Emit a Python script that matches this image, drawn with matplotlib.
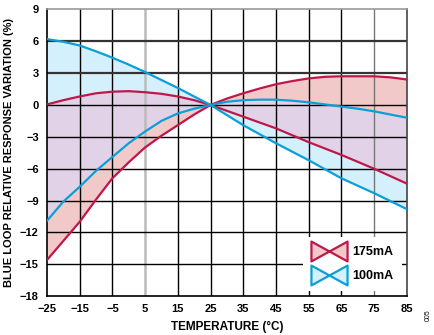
import matplotlib.pyplot as plt
import numpy as np
from matplotlib.path import Path
from matplotlib.lines import Line2D

plt.rcParams['font.family'] = ['Liberation Sans', 'DejaVu Sans']
plt.rcParams['font.weight'] = 'bold'

# temperature (degC) and response variation (%)
temp = [-25, -20, -15, -10, -5, 0, 5, 10, 15, 20, 25, 30,
        35, 40, 45, 50, 55, 60, 65, 70, 75, 80, 85]
red_a = [0.05, 0.45, 0.8, 1.1, 1.25, 1.3, 1.2, 1.05, 0.8, 0.45, 0.0, -0.55,
         -1.1, -1.65, -2.2, -2.85, -3.5, -4.1, -4.7, -5.35, -6.0, -6.7, -7.4]
red_b = [-14.6, -12.8, -11.0, -8.9, -6.9, -5.4, -4.0, -2.9, -1.9, -0.9, 0.0, 0.6,
         1.1, 1.55, 1.95, 2.25, 2.5, 2.65, 2.7, 2.7, 2.7, 2.6, 2.4]
blue_a = [6.2, 5.95, 5.6, 5.05, 4.45, 3.8, 3.1, 2.35, 1.6, 0.8, 0.0, -0.95,
          -1.9, -2.75, -3.6, -4.4, -5.2, -6.05, -6.9, -7.6, -8.3, -9.05, -9.8]
blue_b = [-10.9, -9.1, -7.7, -6.2, -4.9, -3.6, -2.5, -1.5, -0.8, -0.35, 0.0, 0.3,
          0.45, 0.5, 0.5, 0.4, 0.25, 0.05, -0.15, -0.35, -0.6, -0.9, -1.2]

xticks = [-25, -15, -5, 5, 15, 25, 35, 45, 55, 65, 75, 85]
yticks = [-18, -15, -12, -9, -6, -3, 0, 3, 6, 9]

RED = '#C0174A'
BLUE = '#0A9FD6'
PINK = '#F2C9C9'
LBLUE = '#D4F0FC'
PURPLE = '#E2D2E8'

fig = plt.figure(figsize=(4.35, 3.35), dpi=100)
ax = fig.add_axes([0.108, 0.116, 0.827, 0.856])

t = np.array(temp)
ra, rb = np.array(red_a), np.array(red_b)
ba, bb = np.array(blue_a), np.array(blue_b)
r_lo, r_hi = np.minimum(ra, rb), np.maximum(ra, rb)
b_lo, b_hi = np.minimum(ba, bb), np.maximum(ba, bb)
o_lo, o_hi = np.maximum(r_lo, b_lo), np.minimum(r_hi, b_hi)

ax.fill_between(t, r_lo, r_hi, color=PINK, lw=0, zorder=1)
ax.fill_between(t, b_lo, b_hi, color=LBLUE, lw=0, zorder=1)
ax.fill_between(t, o_lo, o_hi, where=o_hi > o_lo, interpolate=True,
                color=PURPLE, lw=0, zorder=1.5)

# grid
for x in xticks[1:-1]:
    if x == 5:
        ax.axvline(x, color='#BBBBBB', lw=1.8, zorder=2)
    elif x == 75:
        ax.axvline(x, color='#777777', lw=1.0, zorder=2)
    else:
        ax.axvline(x, color='black', lw=1.0, zorder=2)
for y in yticks[1:-1]:
    if y in (3, 6):
        ax.axhline(y, color='#333333', lw=1.6, zorder=2)
    else:
        ax.axhline(y, color='black', lw=1.0, zorder=2)

ax.plot(t, ra, color=RED, lw=1.6, zorder=3)
ax.plot(t, rb, color=RED, lw=1.6, zorder=3)
ax.plot(t, ba, color=BLUE, lw=1.6, zorder=3)
ax.plot(t, bb, color=BLUE, lw=1.6, zorder=3)

ax.set_xlim(-25, 85)
ax.set_ylim(-18, 9)
ax.set_xticks(xticks)
ax.set_yticks(yticks)
ax.set_xticklabels([str(v).replace('-', '\u2212') for v in xticks], fontsize=8, fontweight='bold')
ax.set_yticklabels([str(v).replace('-', '\u2212') for v in yticks], fontsize=8, fontweight='bold')
ax.tick_params(length=0, pad=6)
for s in ax.spines.values():
    s.set_linewidth(1.2)
ax.spines['top'].set_color('#999999')
ax.spines['right'].set_color('#444444')

ax.set_xlabel('TEMPERATURE (°C)', fontsize=8.5, fontweight='bold', labelpad=5)
ax.set_ylabel('BLUE LOOP RELATIVE RESPONSE VARIATION (%)', fontsize=8, fontweight='bold', labelpad=4)

# bowtie legend markers
bow = Path([(-1, -0.55), (1, 0.55), (1, -0.55), (-1, 0.55), (-1, -0.55)],
           [Path.MOVETO, Path.LINETO, Path.LINETO, Path.LINETO, Path.CLOSEPOLY])
h1 = Line2D([], [], ls='none', marker=bow, markersize=26, markerfacecolor=PINK,
            markeredgecolor=RED, markeredgewidth=1.6)
h2 = Line2D([], [], ls='none', marker=bow, markersize=26, markerfacecolor=LBLUE,
            markeredgecolor=BLUE, markeredgewidth=1.6)
leg = ax.legend([h1, h2], ['175mA', '100mA'], loc='lower right',
                bbox_to_anchor=(1.0, 0.0), frameon=True, framealpha=1,
                facecolor='white', edgecolor='none', fancybox=False,
                handlelength=2.8, handletextpad=0.4, labelspacing=1.0,
                borderpad=0.7, borderaxespad=0.4, prop={'weight': 'bold', 'size': 9})
leg.set_zorder(5)

fig.text(0.985, 0.06, '005', rotation=90, fontsize=5, fontweight='normal',
         ha='center', va='center')

fig.savefig('out.png', dpi=100)
